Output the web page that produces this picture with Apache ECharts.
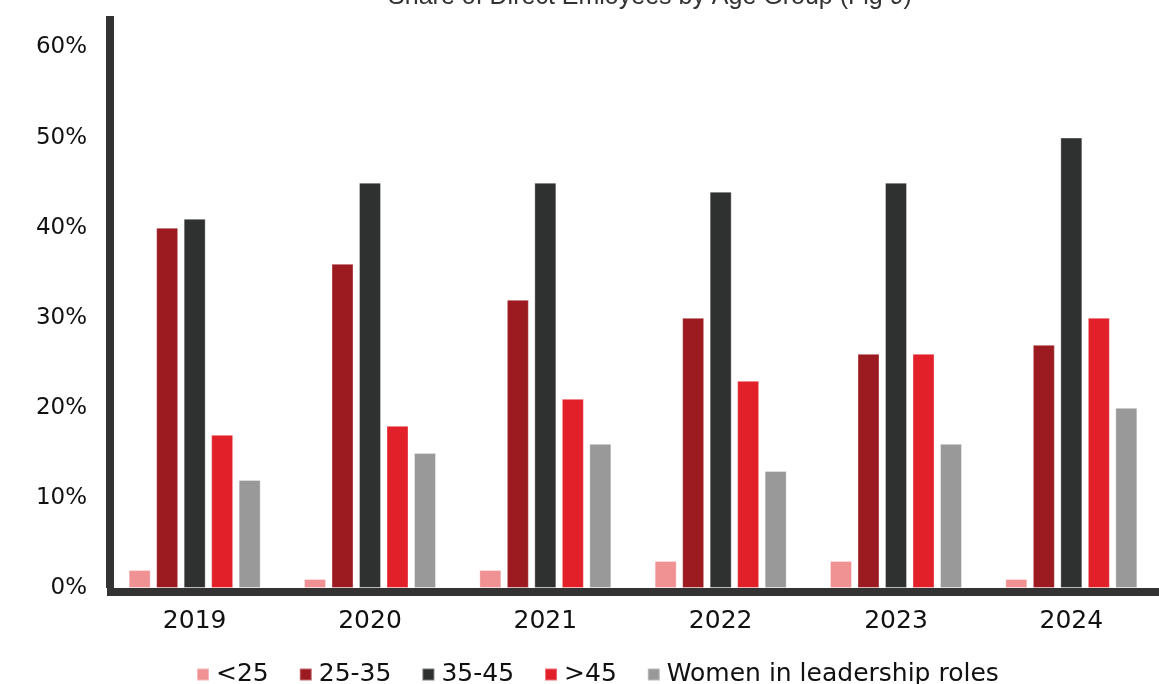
<!DOCTYPE html>
<html>
<head>
<meta charset="utf-8">
<script src="https://cdn.jsdelivr.net/npm/echarts@6/dist/echarts.min.js"></script>
<style>
  html, body { margin: 0; padding: 0; background: #ffffff; }
  #chart { width: 1159px; height: 684px; }
</style>
</head>
<body>
<div id="chart"></div>
<script>
// Reporting years
const years = ['2019', '2020', '2021', '2022', '2023', '2024'];

// Share of direct employees (%) per age group
const under25 = [2, 1, 2, 3, 3, 1];
const age25to35 = [40, 36, 32, 30, 26, 27];
const age35to45 = [41, 45, 45, 44, 45, 50];
const over45 = [17, 18, 21, 23, 26, 30];
const womenLeadership = [12, 15, 16, 13, 16, 20];

// Y-axis tick values
const yTicks = [0, 10, 20, 30, 40, 50, 60];

const seriesDefs = [
  { name: '<25', data: under25, color: '#F09194' },
  { name: '25-35', data: age25to35, color: '#9C1B21' },
  { name: '35-45', data: age35to45, color: '#2F3130' },
  { name: '>45', data: over45, color: '#E2202A' },
  { name: 'Women in leadership roles', data: womenLeadership, color: '#989998' }
];

const chart = echarts.init(document.getElementById('chart'), null, { renderer: 'canvas' });

const labelFont = 'DejaVu Sans';

chart.setOption({
  animation: false,
  backgroundColor: '#ffffff',
  title: {
    text: 'Share of Direct Emloyees by Age Group (Fig 9)',
    left: 645,
    textAlign: 'center',
    top: -20,
    textStyle: {
      fontFamily: 'Liberation Sans',
      fontSize: 25,
      fontWeight: 'normal',
      color: '#333333'
    }
  },
  legend: {
    left: 191,
    top: 657,
    icon: 'rect',
    itemWidth: 12,
    itemHeight: 12,
    itemGap: 30,
    textStyle: {
      fontFamily: labelFont,
      fontSize: 25,
      color: '#111111',
      padding: [0, 0, 0, 2]
    },
    data: seriesDefs.map(s => s.name)
  },
  grid: {
    left: 107,
    top: 16,
    width: 1061,
    height: 572,
    containLabel: false
  },
  xAxis: {
    type: 'category',
    data: years,
    offset: 4,
    axisLine: { show: true, onZero: false, lineStyle: { color: '#333333', width: 8, cap: 'butt' } },
    axisTick: { show: false },
    axisLabel: {
      margin: 17,
      fontFamily: labelFont,
      fontSize: 25,
      color: '#111111'
    }
  },
  yAxis: {
    type: 'value',
    min: yTicks[0],
    max: 63.5,
    interval: 10,
    offset: -3,
    splitLine: { show: false },
    axisTick: { show: false },
    axisLine: { show: true, onZero: false, lineStyle: { color: '#333333', width: 8, cap: 'butt' } },
    axisLabel: {
      margin: 23,
      showMaxLabel: false,
      fontFamily: labelFont,
      fontSize: 23,
      color: '#111111',
      formatter: v => (yTicks.indexOf(v) >= 0 ? v + '%' : '')
    }
  },
  series: seriesDefs.map(s => ({
    name: s.name,
    type: 'bar',
    data: s.data,
    barWidth: 22,
    barGap: '25%',
    itemStyle: {
      color: s.color,
      borderColor: 'rgba(255,255,255,0.35)',
      borderWidth: 1
    }
  }))
});
</script>
</body>
</html>
